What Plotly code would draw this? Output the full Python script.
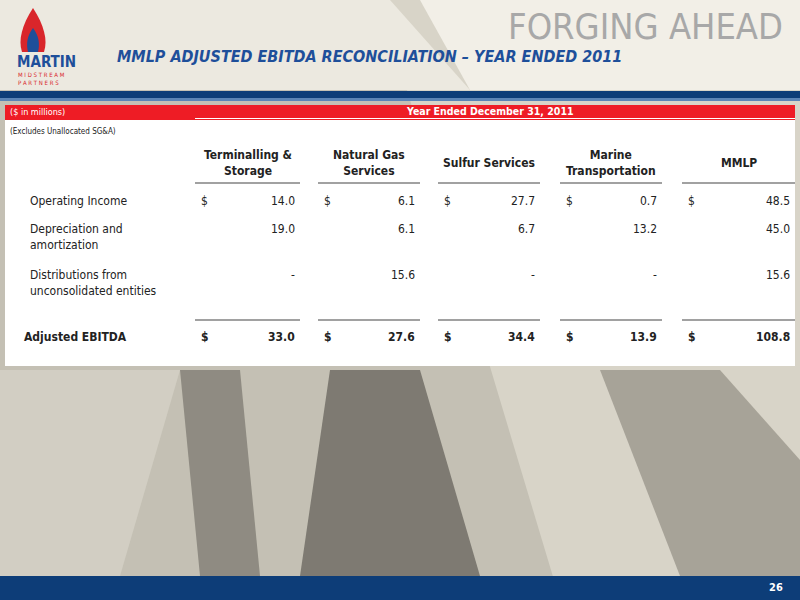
import plotly.graph_objects as go

# table data ($ in millions)
segments = ["Terminalling &<br>Storage", "Natural Gas<br>Services", "Sulfur Services",
            "Marine<br>Transportation", "MMLP"]
row_labels = ["Operating Income", "Depreciation and<br>amortization",
              "Distributions from<br>unconsolidated entities"]
operating_income = [14.0, 6.1, 27.7, 0.7, 48.5]
depreciation = [19.0, 6.1, 6.7, 13.2, 45.0]
distributions = [None, 15.6, None, None, 15.6]
adjusted_ebitda = [33.0, 27.6, 34.4, 13.9, 108.8]

FONT = "Liberation Sans Narrow, DejaVu Sans Condensed, sans-serif"
col_left = [195, 318, 438, 560, 682]
col_right = [300, 420, 540, 662, 795]

fig = go.Figure()
shapes = []
ann = []


def text(x, y, s, size=12, color="#222", anchor="left", bold=False, **kw):
    if bold:
        s = "<b>" + s + "</b>"
    ann.append(dict(x=x, y=y, text=s, showarrow=False, xanchor=anchor, yanchor="middle",
                    align=anchor if anchor != "right" else "right",
                    font=dict(family=FONT, size=size, color=color), **kw))


# background of the slide
shapes.append(dict(type="rect", x0=0, x1=800, y0=0, y1=600, fillcolor="#c4c0b4", line_width=0))
shapes.append(dict(type="path", path="M 380 0 L 800 0 L 800 600 L 560 600 Z",
                   fillcolor="#d8d4c8", line_width=0))
shapes.append(dict(type="path", path="M 0 0 L 390 0 L 470 90 L 0 90 Z",
                   fillcolor="#ece9e0", line_width=0))
shapes.append(dict(type="path", path="M 420 0 L 800 0 L 800 90 L 470 90 Z",
                   fillcolor="#f2efe7", line_width=0))
shapes.append(dict(type="path", path="M 0 370 L 180 370 L 120 576 L 0 576 Z",
                   fillcolor="#d2cec3", line_width=0))
shapes.append(dict(type="path", path="M 180 370 L 240 370 L 260 576 L 200 576 Z",
                   fillcolor="#8f8b82", line_width=0))
shapes.append(dict(type="path", path="M 330 370 L 420 370 L 480 576 L 300 576 Z",
                   fillcolor="#7e7a72", line_width=0))
shapes.append(dict(type="path", path="M 600 370 L 720 370 L 800 460 L 800 576 L 680 576 Z",
                   fillcolor="#a7a398", line_width=0))
# top lines and bottom band
shapes.append(dict(type="rect", x0=0, x1=800, y0=91, y1=98, fillcolor="#0d3d78", line_width=0))
shapes.append(dict(type="rect", x0=0, x1=800, y0=98, y1=101, fillcolor="#5b84b5", line_width=0))
shapes.append(dict(type="rect", x0=0, x1=800, y0=576, y1=600, fillcolor="#0d3d78", line_width=0))
# table panel
shapes.append(dict(type="rect", x0=5, x1=795, y0=105, y1=366, fillcolor="white", line_width=0))
shapes.append(dict(type="rect", x0=5, x1=795, y0=105, y1=120, fillcolor="#ee1c25", line_width=0))
shapes.append(dict(type="line", x0=195, x1=795, y0=118.5, y1=118.5, line=dict(color="white", width=1)))

# logo (simple flame + text)
shapes.append(dict(type="path", path="M 33 8 C 22 25 18 40 22 52 L 44 52 C 48 40 44 25 33 8 Z",
                   fillcolor="#d9262b", line_width=0))
shapes.append(dict(type="path", path="M 33 28 C 27 36 26 44 28 52 L 38 52 C 40 44 39 36 33 28 Z",
                   fillcolor="#1e4f9a", line_width=0))
text(15, 62, "MARTIN", 15, "#1e4f9a", bold=True)
text(16, 74, "M I D S T R E A M", 6, "#d9262b")
text(16, 82, "P A R T N E R S", 6, "#d9262b")

text(785, 26, "FORGING AHEAD", 36, "#a8a8a8", anchor="right")
text(115, 56, "<i>MMLP ADJUSTED EBITDA RECONCILIATION – YEAR ENDED 2011</i>", 16, "#1e4f9a", bold=True)

text(8, 111.5, "($ in millions)", 9, "white")
text(490, 111, "Year Ended December 31, 2011", 10.5, "white", anchor="center", bold=True)
text(8, 131, "(Excludes Unallocated SG&A)", 8, "#222")

# column headers and underlines
for i, seg in enumerate(segments):
    cx = (col_left[i] + col_right[i]) / 2
    text(cx, 163, seg, 12, "#222", anchor="center", bold=True)
    shapes.append(dict(type="line", x0=col_left[i], x1=col_right[i], y0=183, y1=183,
                       line=dict(color="#444", width=1.2)))
    shapes.append(dict(type="line", x0=col_left[i], x1=col_right[i], y0=320, y1=320,
                       line=dict(color="#444", width=1.2)))

rows = [(operating_income, 201, True), (depreciation, 229, False), (distributions, 275, False)]
label_y = [201, 237, 283]
for lab, ly in zip(row_labels, label_y):
    text(28, ly, lab, 12, "#222")
for vals, y, dollar in rows:
    for i, v in enumerate(vals):
        if dollar:
            text(col_left[i] + 4, y, "$", 12)
        text(col_right[i] - 3, y, "-" if v is None else f"{v:.1f}", 12, anchor="right")

text(22, 337, "Adjusted EBITDA", 12, bold=True)
for i, v in enumerate(adjusted_ebitda):
    text(col_left[i] + 4, 337, "$", 12, bold=True)
    text(col_right[i] - 3, 337, f"{v:.1f}", 12, anchor="right", bold=True)

text(785, 587, "26", 11, "white", anchor="right", bold=True)

fig.update_layout(
    width=800, height=600, margin=dict(l=0, r=0, t=0, b=0),
    xaxis=dict(range=[0, 800], visible=False, fixedrange=True),
    yaxis=dict(range=[600, 0], visible=False, fixedrange=True),
    plot_bgcolor="white", paper_bgcolor="white",
    shapes=shapes, annotations=ann, showlegend=False,
)
fig.write_html("out.html", post_script="document.body.style.margin='0';",
               config={"displayModeBar": False})
